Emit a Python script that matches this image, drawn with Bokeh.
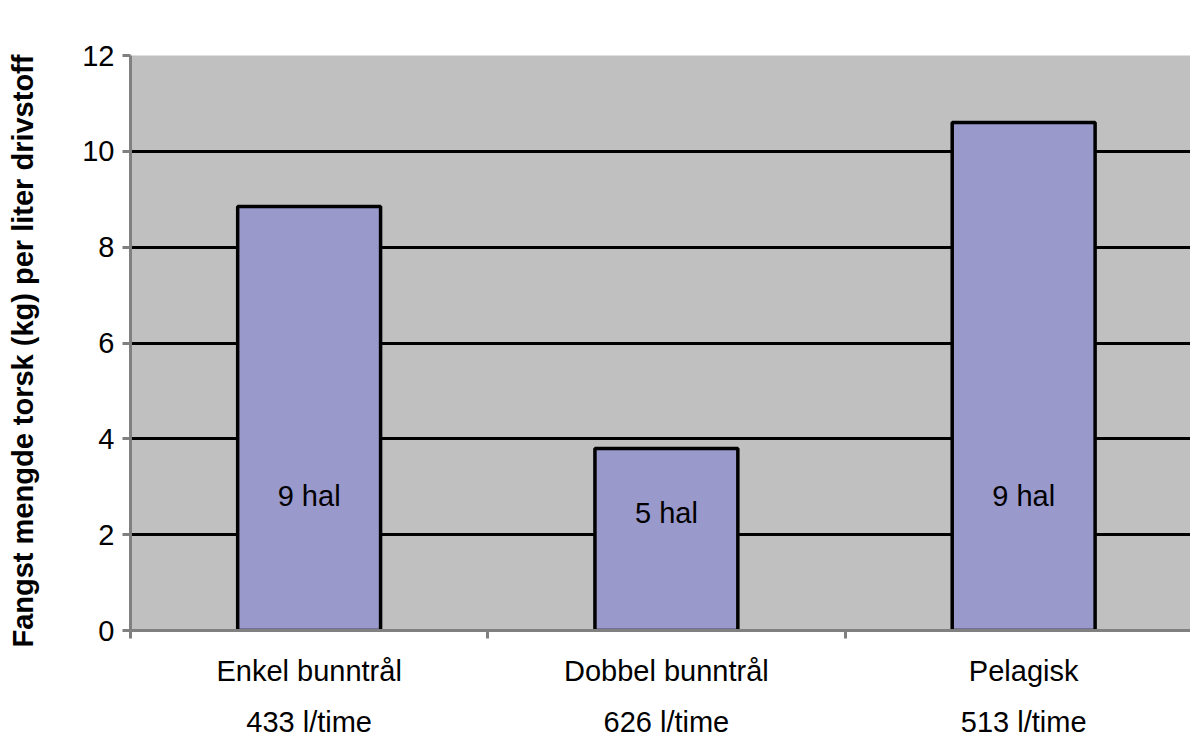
from bokeh.plotting import figure
from bokeh.models import FixedTicker, LinearAxis, Range1d, ColumnDataSource
from bokeh.core.properties import value
from bokeh.embed import file_html
from bokeh.resources import INLINE

categories = ["Enkel bunntrål", "Dobbel bunntrål", "Pelagisk"]
consumption = ["433 l/time", "626 l/time", "513 l/time"]
values = [8.85, 3.8, 10.6]
hauls = ["9 hal", "5 hal", "9 hal"]
label_y = [2.8, 2.45, 2.8]

xs = [0.5, 1.5, 2.5]
src = ColumnDataSource(dict(x=xs, top=values, txt=hauls, ly=label_y))

p = figure(width=1190, height=740, output_backend="svg", toolbar_location=None,
           x_range=Range1d(0, 2.967), y_range=Range1d(0, 12),
           min_border_left=130, min_border_top=55, min_border_right=0, min_border_bottom=5)
p.background_fill_color = "#c0c0c0"
p.outline_line_color = None
p.xgrid.visible = False
p.ygrid.grid_line_color = "black"
p.ygrid.grid_line_width = 3
p.ygrid.ticker = FixedTicker(ticks=[0, 2, 4, 6, 8, 10, 12])

p.vbar(x="x", top="top", width=0.4, bottom=0, source=src,
       fill_color="#9999cc", line_color="black", line_width=3.5)
p.text(x="x", y="ly", text="txt", source=src, text_align="center", text_baseline="middle",
       text_font=value("Liberation Sans"), text_font_size="29px", text_color="black")

p.yaxis.ticker = FixedTicker(ticks=[0, 2, 4, 6, 8, 10, 12])
p.yaxis.axis_label = "Fangst mengde torsk  (kg)  per liter drivstoff"
p.yaxis.axis_label_text_font = "Liberation Sans"
p.yaxis.axis_label_text_font_style = "bold"
p.yaxis.axis_label_text_font_size = "29px"
p.yaxis.axis_label_text_color = "black"
p.yaxis.axis_label_standoff = 40
p.yaxis.major_label_text_font = "Liberation Sans"
p.yaxis.major_label_text_font_size = "29px"
p.yaxis.major_label_text_color = "black"
p.yaxis.major_label_standoff = 8
p.yaxis.axis_line_color = "#808080"
p.yaxis.axis_line_width = 3
p.yaxis.major_tick_line_color = "#808080"
p.yaxis.major_tick_line_width = 3
p.yaxis.major_tick_in = 0
p.yaxis.major_tick_out = 8
p.yaxis.minor_tick_line_color = None

p.xaxis.ticker = FixedTicker(ticks=[0, 1, 2])
p.xaxis.major_label_overrides = {0: "", 1: "", 2: ""}
p.xaxis.axis_line_color = "#808080"
p.xaxis.axis_line_width = 3
p.xaxis.major_tick_line_color = "#808080"
p.xaxis.major_tick_line_width = 3
p.xaxis.major_tick_in = 0
p.xaxis.major_tick_out = 8
p.xaxis.minor_tick_line_color = None

ax2 = LinearAxis(ticker=FixedTicker(ticks=xs),
                 major_label_overrides={x: c + "\n" + l for x, c, l in zip(xs, categories, consumption)})
ax2.axis_line_color = None
ax2.major_tick_line_color = None
ax2.minor_tick_line_color = None
ax2.major_label_text_font = "Liberation Sans"
ax2.major_label_text_font_size = "29px"
ax2.major_label_text_color = "black"
ax2.major_label_text_line_height = 1.6
ax2.major_label_standoff = 10
p.add_layout(ax2, "below")

open("out.html", "w").write(file_html(p, INLINE))
